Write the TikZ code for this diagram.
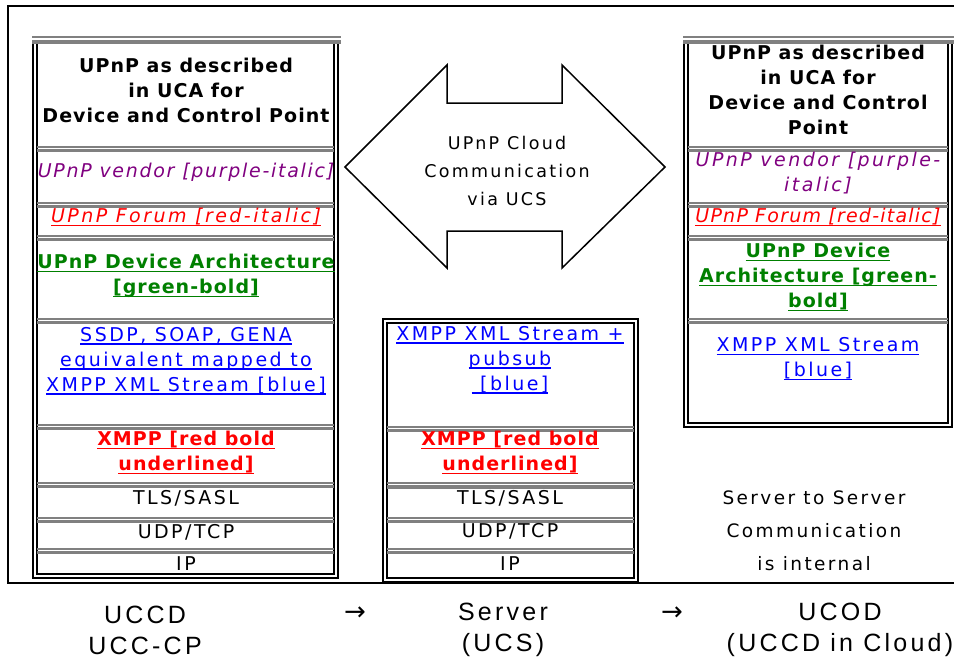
\documentclass[tikz,border=0pt]{standalone}
\usepackage{fontspec}
\setmainfont{DejaVu Sans}
\newfontfamily\bxfont{DejaVu Sans}[LetterSpace=13]
\newfontfamily\itfont{DejaVu Sans}[LetterSpace=9]
\newfontfamily\itnarrowfont{DejaVu Sans}[LetterSpace=6.5]
\newfontfamily\bbfont{DejaVu Sans}[LetterSpace=5.5]
\newfontfamily\lbfont{Liberation Sans}[LetterSpace=13]
\newfontfamily\arfont{DejaVu Sans}
\definecolor{upurple}{RGB}{128,0,128}
\definecolor{ugreen}{RGB}{0,128,0}
\definecolor{ublue}{RGB}{0,0,255}
\definecolor{ured}{RGB}{255,0,0}
\definecolor{sepgray}{RGB}{128,128,128}
\newcommand\uln[1]{\setbox0\hbox{#1}\rlap{\rule[-3.5pt]{\wd0}{1.4pt}}\box0}
\begin{document}
\begin{tikzpicture}[x=1pt,y=-1pt,
  txt/.style={font=\bxfont\fontsize{19}{25}\selectfont, align=center, inner sep=0pt},
  itxt/.style={txt, font=\itfont\fontsize{19}{25}\selectfont\itshape},
  ritxt/.style={txt, font=\bxfont\fontsize{19}{25}\selectfont\itshape},
  nitxt/.style={txt, font=\itnarrowfont\fontsize{19}{25}\selectfont\itshape},
  btxt/.style={txt, font=\bbfont\fontsize{19}{25}\selectfont\bfseries},
  stxt/.style={txt, font=\bxfont\fontsize{17.5}{28}\selectfont},
  lbl/.style={font=\lbfont\fontsize{25}{31}\selectfont, align=center, inner sep=0pt},
  arr/.style={font=\arfont\fontsize{26}{30}\selectfont, inner sep=0pt},
  frame/.style={line width=2pt, black},
  dbl/.style={line width=2pt, black},
  gthin/.style={line width=2pt, sepgray},
  gthick/.style={line width=3.5pt, sepgray},
  bigarrow/.style={line width=1.5pt, black, line join=miter}]
\useasboundingbox (0,0) rectangle (954,662);
\fill[white] (0,0) rectangle (954,662);
% outer frame
\draw[frame] (954,6) -- (8,6) -- (8,583) -- (954,583);

% ---------- left stack ----------
\draw[dbl] (33,43) -- (33,578) -- (338,578) -- (338,43);
\draw[dbl] (37,43) -- (37,574) -- (334,574) -- (334,43);
\draw[gthin] (32,37) -- (341,37);
\draw[gthick] (32,42) -- (341,42);
\foreach \yy in {148.5,204.5,237.5,320.5,426.5,484.5,519.5,550.5}{
  \draw[gthin] (37,\yy-2) -- (334,\yy-2);
  \draw[gthick] (37,\yy+2) -- (334,\yy+2);
}
\node[btxt] (l1) at (186,90) {UPnP as described\\in UCA for\\Device and Control Point};
\node[itxt, text=upurple] (l2) at (186,172) {UPnP vendor [purple-italic]};
\node[ritxt, text=ured] (l3) at (186,217) {\uln{UPnP Forum [red-italic]}};
\node[btxt, text=ugreen] (l4) at (186,276) {\uln{UPnP Device Architecture}\\\uln{[green-bold]}};
\node[txt, text=ublue] (l5) at (186,361) {\uln{SSDP, SOAP, GENA}\\\uln{equivalent mapped to}\\\uln{XMPP XML Stream [blue]}};
\node[btxt, text=ured] (l6) at (186,453) {\uln{XMPP [red bold}\\\uln{underlined]}};
\node[txt] (l7) at (186,498) {TLS/SASL};
\node[txt] (l8) at (186,532) {UDP/TCP};
\node[txt] (l9) at (186,564) {IP};

% ---------- middle stack ----------
\draw[dbl] (383,319) rectangle (638,582);
\draw[dbl] (387,323) rectangle (634,578);
\foreach \yy in {428.5,485,519.5,550.5}{
  \draw[gthin] (387,\yy-2) -- (634,\yy-2);
  \draw[gthick] (387,\yy+2) -- (634,\yy+2);
}
\node[txt, text=ublue] (m1) at (510,360) {\uln{XMPP XML Stream +}\\\uln{pubsub}\\\uln{ [blue]}};
\node[btxt, text=ured] (m2) at (510,453) {\uln{XMPP [red bold}\\\uln{underlined]}};
\node[txt] (m3) at (510,498) {TLS/SASL};
\node[txt] (m4) at (510,531) {UDP/TCP};
\node[txt] (m5) at (510,564) {IP};

% ---------- right stack ----------
\draw[dbl] (684,43) -- (684,427) -- (952,427) -- (952,43);
\draw[dbl] (688,43) -- (688,423) -- (948,423) -- (948,43);
\draw[gthin] (683,37) -- (954,37);
\draw[gthick] (683,42) -- (954,42);
\foreach \yy in {148.5,204.5,237.5,320.5}{
  \draw[gthin] (688,\yy-2) -- (948,\yy-2);
  \draw[gthick] (688,\yy+2) -- (948,\yy+2);
}
\node[btxt] (r1) at (818,90) {UPnP as described\\in UCA for\\Device and Control\\Point};
\node[ritxt, text=upurple] (r2) at (818,173) {UPnP vendor [purple-\\italic]};
\node[nitxt, text=ured] (r3) at (818,217) {\uln{UPnP Forum [red-italic]}};
\node[btxt, text=ugreen] (r4) at (818,277) {\uln{UPnP Device}\\\uln{Architecture [green-}\\\uln{bold]}};
\node[txt, text=ublue] (r5) at (818,359) {\uln{XMPP XML Stream}\\\uln{[blue]}};

% ---------- double arrow ----------
\draw[bigarrow] (345,167) -- (447,65) -- (447,103) -- (562,103) -- (562,65) -- (665,167)
  -- (562,268) -- (562,231) -- (447,231) -- (447,268) -- cycle;
\node[stxt] (ac) at (507,171) {UPnP Cloud\\Communication\\via UCS};

\node[stxt, font=\bxfont\fontsize{18.5}{33}\selectfont] (ss) at (814,531) {Server to Server\\Communication\\is internal};

% ---------- bottom labels ----------
\node[lbl] (b1) at (145,630) {UCCD\\UCC-CP};
\node[arr] (a1) at (355,614) {→};
\node[lbl] (b2) at (503,630) {Server\\(UCS)};
\node[arr] (a2) at (672,614) {→};
\node[lbl] (b3) at (840,630) {UCOD\\(UCCD in Cloud)};
\end{tikzpicture}
\end{document}
